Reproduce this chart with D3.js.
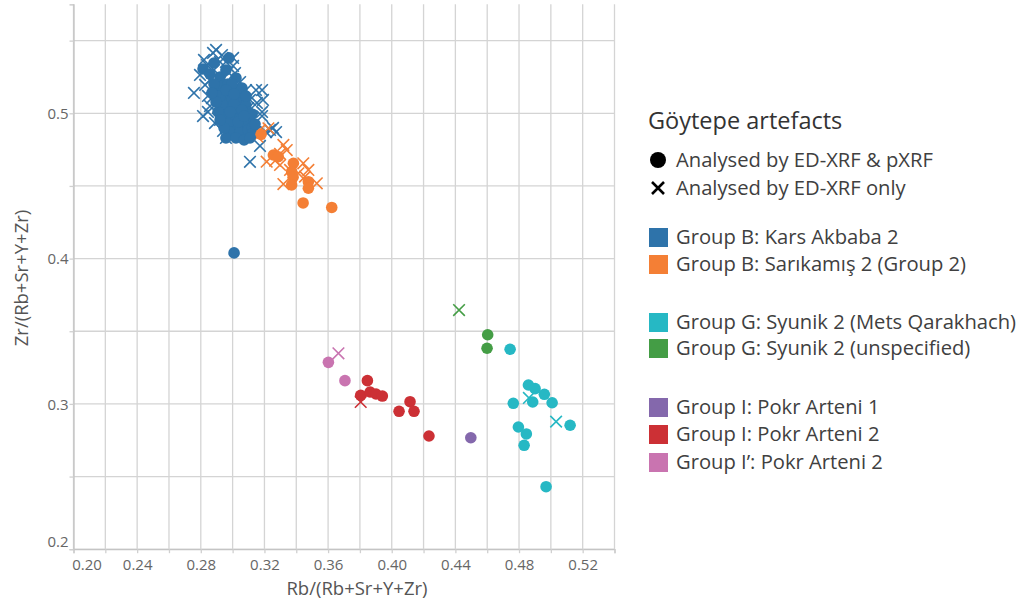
<!DOCTYPE html>
<html>
<head>
<meta charset="utf-8">
<script src="https://cdn.jsdelivr.net/npm/d3@7"></script>
<style>
  body { margin: 0; background: #fff; }
  text { font-family: "Open Sans", "Noto Sans", sans-serif; }
</style>
</head>
<body>
<div id="chart"></div>
<script>
var svgWidth = 1027;
var svgHeight = 604;

// groups: name, colour
var groupNames = [
  "Group B: Kars Akbaba 2",
  "Group B: Sarıkamış 2 (Group 2)",
  "Group G: Syunik 2 (Mets Qarakhach)",
  "Group G: Syunik 2 (unspecified)",
  "Group I: Pokr Arteni 1",
  "Group I: Pokr Arteni 2",
  "Group I’: Pokr Arteni 2"
];
var groupColors = ["#2e73aa", "#f47f35", "#26b8c4", "#449d45", "#8468ac", "#cc3035", "#c974b0"];

var xTicks = [0.20, 0.24, 0.28, 0.32, 0.36, 0.40, 0.44, 0.48, 0.52];
var yTicks = [0.2, 0.3, 0.4, 0.5];

// [Rb ratio, Zr ratio]; circles = ED-XRF & pXRF, crosses = ED-XRF only
var karsCircles = [
  [0.2814,0.5305],[0.2977,0.5381],[0.2883,0.5346],[0.2921,0.5250],[0.2902,0.5147],[0.2933,0.5188],
  [0.2971,0.5202],[0.3009,0.5174],[0.3034,0.5126],[0.2958,0.5105],[0.2996,0.5092],[0.3047,0.5071],
  [0.3084,0.5057],[0.3021,0.5023],[0.2971,0.5036],[0.2933,0.5064],[0.2946,0.4988],[0.2996,0.4968],
  [0.3047,0.4968],[0.3097,0.5009],[0.3109,0.4954],[0.3072,0.4919],[0.3021,0.4913],[0.2971,0.4926],
  [0.2984,0.4871],[0.3047,0.4871],[0.3097,0.4885],[0.2958,0.4830],[0.3021,0.4830],[0.3072,0.4816],
  [0.3122,0.4899],[0.2908,0.5009],[0.2984,0.5160],[0.3059,0.5174],[0.3021,0.5243],[0.2958,0.5298],
  [0.2946,0.4899],[0.3009,0.5064],[0.3084,0.5119],[0.3122,0.4995],[0.2921,0.5119],[0.2883,0.5202],
  [0.2858,0.5270],[0.2984,0.5009],[0.3059,0.5023],[0.3034,0.4940],[0.2996,0.5202],[0.2958,0.5160],
  [0.2896,0.5078],[0.3072,0.4981],[0.3009,0.5133],[0.2921,0.4954],[0.3122,0.4858],[0.3141,0.4926],
  [0.3109,0.4830],[0.2870,0.5140],[0.3009,0.4039]
];
var karsCrosses = [
  [0.2757,0.5140],[0.2814,0.4981],[0.2845,0.5009],[0.2858,0.5050],[0.2827,0.5195],[0.2858,0.5229],
  [0.2839,0.5332],[0.2877,0.5415],[0.2896,0.5436],[0.2921,0.5353],[0.2883,0.5298],[0.2933,0.5401],
  [0.3003,0.5381],[0.3003,0.5326],[0.3015,0.5277],[0.3047,0.5215],[0.3084,0.5160],[0.3147,0.5160],
  [0.3185,0.5160],[0.3191,0.5092],[0.3153,0.5071],[0.3185,0.5009],[0.3185,0.4981],[0.3128,0.4968],
  [0.3141,0.4871],[0.3210,0.4871],[0.3235,0.4885],[0.3273,0.4871],[0.3254,0.4899],[0.3172,0.4775],
  [0.3109,0.4666],[0.2921,0.4954],[0.2889,0.4933],[0.2940,0.4878],[0.2958,0.4830],[0.3047,0.4844],
  [0.3072,0.4858],[0.2996,0.4858],[0.2870,0.5105],[0.2908,0.5126],[0.2933,0.5229],[0.2971,0.5284],
  [0.2795,0.5264],[0.2820,0.5367],[0.3097,0.5036],[0.3109,0.5092],[0.3034,0.5119],[0.2971,0.5009],
  [0.2908,0.5036],[0.2996,0.4913],[0.3072,0.4913],[0.2883,0.5202],[0.2958,0.5353],[0.2845,0.5119]
];
var sarikamisCircles = [
  [0.3179,0.4855],[0.3256,0.4713],[0.3287,0.4701],[0.3382,0.4656],[0.3371,0.4598],[0.3380,0.4560],
  [0.3371,0.4507],[0.3476,0.4529],[0.3476,0.4484],[0.3443,0.4383],[0.3623,0.4352]
];
var sarikamisCrosses = [
  [0.3172,0.4885],[0.3225,0.4897],[0.3156,0.4839],[0.3319,0.4782],[0.3340,0.4747],[0.3298,0.4720],
  [0.3214,0.4667],[0.3267,0.4674],[0.3298,0.4644],[0.3444,0.4656],[0.3476,0.4610],[0.3455,0.4564],
  [0.3529,0.4518],[0.3319,0.4513],[0.3361,0.4610],[0.3413,0.4587]
];
var metsCircles = [
  [0.4744,0.3376],[0.4859,0.3130],[0.4901,0.3105],[0.4959,0.3066],[0.5008,0.3008],[0.4886,0.3013],
  [0.4764,0.3004],[0.5121,0.2853],[0.4796,0.2841],[0.4846,0.2793],[0.4832,0.2715],[0.4970,0.2430]
];
var metsCrosses = [[0.5033,0.2878],[0.4862,0.3041]];
var unspecCircles = [[0.4603,0.3476],[0.4599,0.3383]];
var unspecCrosses = [[0.4423,0.3646]];
var arteni1Circles = [[0.4497,0.2767]];
var arteni2Circles = [
  [0.3847,0.3160],[0.3805,0.3059],[0.3864,0.3082],[0.3901,0.3068],[0.3941,0.3054],
  [0.4115,0.3015],[0.4046,0.2949],[0.4140,0.2949],[0.4234,0.2779]
];
var arteni2Crosses = [[0.3805,0.3013]];
var arteniPrimeCircles = [[0.3602,0.3286],[0.3706,0.3160]];
var arteniPrimeCrosses = [[0.3665,0.3348]];

var circleSets = [karsCircles, sarikamisCircles, metsCircles, unspecCircles, arteni1Circles, arteni2Circles, arteniPrimeCircles];
var crossSets = [karsCrosses, sarikamisCrosses, metsCrosses, unspecCrosses, [], arteni2Crosses, arteniPrimeCrosses];

var svg = d3.select("#chart")
  .append("svg")
  .attr("width", svgWidth)
  .attr("height", svgHeight);

var xScale = d3.scaleLinear().domain([0.20, 0.54]).range([73.5, 614.5]);
var yScale = d3.scaleLinear().domain([0.2, 0.575]).range([549.2, 4.3]);

var xGrid = d3.range(0, 18).map(i => 0.20 + i * 0.02);
var yGrid = d3.range(0, 8).map(i => 0.20 + i * 0.05);

// gridlines
var grid = svg.append("g");
grid.selectAll(".vgrid")
  .data(xGrid)
  .enter().append("line")
  .attr("x1", d => xScale(d)).attr("x2", d => xScale(d))
  .attr("y1", yScale(0.575)).attr("y2", yScale(0.2))
  .attr("stroke", "#d4d4d4").attr("stroke-width", 1.3);
grid.selectAll(".hgrid")
  .data(yGrid)
  .enter().append("line")
  .attr("x1", xScale(0.20)).attr("x2", xScale(0.54))
  .attr("y1", d => yScale(d)).attr("y2", d => yScale(d))
  .attr("stroke", "#d4d4d4").attr("stroke-width", 1.3);

// axes
var bottomAxis = d3.axisBottom(xScale)
  .tickValues(xGrid)
  .tickSize(4)
  .tickFormat(d => xTicks.some(t => Math.abs(t - d) < 1e-6) ? d3.format(".2f")(d) : "");
var leftAxis = d3.axisLeft(yScale)
  .tickValues(yGrid)
  .tickSize(4)
  .tickFormat(d => yTicks.some(t => Math.abs(t - d) < 1e-6) ? d3.format(".1f")(d) : "");

var xAxisG = svg.append("g")
  .attr("transform", `translate(0, ${yScale(0.2)})`)
  .call(bottomAxis);
var yAxisG = svg.append("g")
  .attr("transform", `translate(${xScale(0.20)}, 0)`)
  .call(leftAxis);

[xAxisG, yAxisG].forEach(function(g) {
  g.select(".domain").attr("stroke", "#c4c4c4").attr("stroke-width", 1.3);
  g.selectAll(".tick line").attr("stroke", "#d0d0d0").attr("stroke-width", 1.3);
  g.selectAll(".tick text")
    .attr("fill", "#666")
    .style("font-family", "'Open Sans', sans-serif")
    .style("font-size", "15px");
});
xAxisG.selectAll(".tick text").attr("dy", "0.95em")
  .attr("dx", d => Math.abs(d - 0.20) < 1e-6 ? 13 : 0);
yAxisG.selectAll(".tick text").attr("x", -5)
  .attr("dy", d => Math.abs(d - 0.2) < 1e-6 ? "-0.15em" : "0.35em");

// axis titles
svg.append("text")
  .attr("x", 357).attr("y", 595)
  .attr("text-anchor", "middle")
  .attr("fill", "#555")
  .style("font-size", "18.5px")
  .text("Rb/(Rb+Sr+Y+Zr)");
svg.append("text")
  .attr("transform", "translate(28, 278) rotate(-90)")
  .attr("text-anchor", "middle")
  .attr("fill", "#555")
  .style("font-size", "18.5px")
  .text("Zr/(Rb+Sr+Y+Zr)");

// marks: crosses below circles
var marks = svg.append("g");
var crossSize = 5.8;
crossSets.forEach(function(set, gi) {
  marks.selectAll(null)
    .data(set)
    .enter().append("path")
    .attr("transform", d => `translate(${xScale(d[0])}, ${yScale(d[1])})`)
    .attr("d", `M${-crossSize},${-crossSize}L${crossSize},${crossSize}M${-crossSize},${crossSize}L${crossSize},${-crossSize}`)
    .attr("stroke", groupColors[gi])
    .attr("stroke-width", 1.6)
    .attr("fill", "none");
});
circleSets.forEach(function(set, gi) {
  marks.selectAll(null)
    .data(set)
    .enter().append("circle")
    .attr("cx", d => xScale(d[0]))
    .attr("cy", d => yScale(d[1]))
    .attr("r", 5.8)
    .attr("fill", groupColors[gi]);
});

// legend
var legend = svg.append("g");
legend.append("text")
  .attr("x", 648).attr("y", 129)
  .attr("fill", "#333")
  .style("font-size", "23.5px")
  .text("Göytepe artefacts");

var shapeLabels = ["Analysed by ED-XRF & pXRF", "Analysed by ED-XRF only"];
var shapeRows = [160, 188];
legend.append("circle").attr("cx", 658).attr("cy", shapeRows[0]).attr("r", 8).attr("fill", "#000");
legend.append("path")
  .attr("d", `M${652},${shapeRows[1] - 6}L${664},${shapeRows[1] + 6}M${652},${shapeRows[1] + 6}L${664},${shapeRows[1] - 6}`)
  .attr("stroke", "#000").attr("stroke-width", 2.6);
shapeLabels.forEach(function(t, i) {
  legend.append("text")
    .attr("x", 676).attr("y", shapeRows[i] + 7)
    .attr("fill", "#404040")
    .style("font-size", "20.2px")
    .text(t);
});

var groupRows = [237, 264, 322, 348, 407, 434, 462];
groupNames.forEach(function(name, i) {
  legend.append("rect")
    .attr("x", 649).attr("y", groupRows[i] - 9)
    .attr("width", 19).attr("height", 19)
    .attr("fill", groupColors[i]);
  legend.append("text")
    .attr("x", 676).attr("y", groupRows[i] + 7)
    .attr("fill", "#404040")
    .style("font-size", "20.2px")
    .text(name);
});
</script>
</body>
</html>
